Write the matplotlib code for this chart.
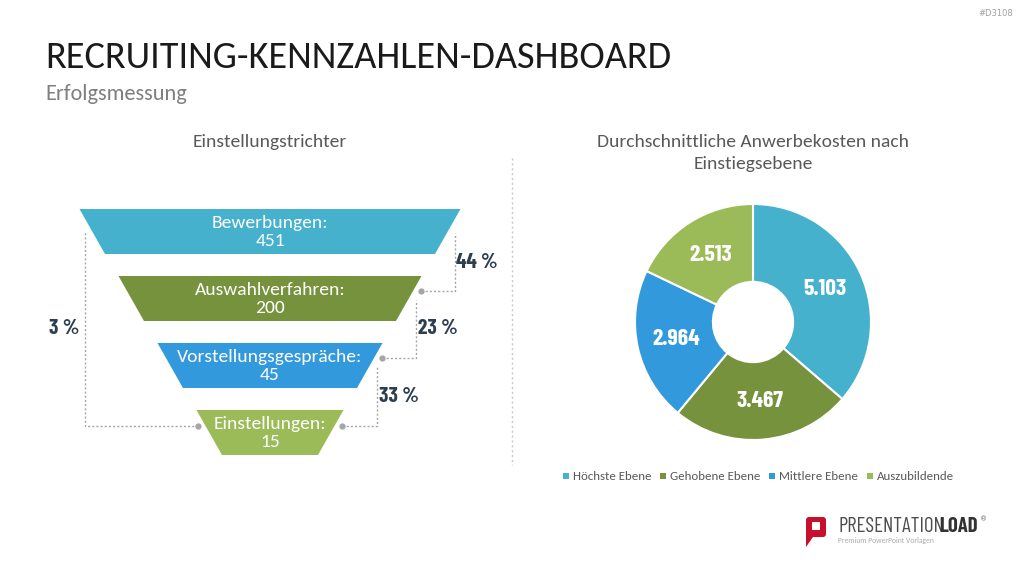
import numpy as np
import matplotlib.pyplot as plt
from matplotlib.patches import Polygon, FancyBboxPatch, Rectangle

# data
stages = ['Bewerbungen:', 'Auswahlverfahren:', 'Vorstellungsgespräche:', 'Einstellungen:']
stage_values = [451, 200, 45, 15]
levels = ['Höchste Ebene', 'Gehobene Ebene', 'Mittlere Ebene', 'Auszubildende']
costs = [5.103, 3.467, 2.964, 2.513]
colors = ['#46B1CC', '#76923C', '#3399DD', '#9BBB59']

grey = '#595959'
dark = '#2C3E50'
line_c = '#A6A6A6'
body = ['Carlito', 'Lato', 'DejaVu Sans']
cond = ['Barlow Condensed', 'Oswald', 'DejaVu Sans']

fig = plt.figure(figsize=(10.24, 5.76), dpi=100)
ax = fig.add_axes([0, 0, 1, 1])
ax.set_xlim(0, 1024)
ax.set_ylim(576, 0)
ax.axis('off')

# header
ax.text(45, 57, 'RECRUITING-KENNZAHLEN-DASHBOARD', fontsize=27.5, family=body,
        color='#1A1A1A', va='center', ha='left')
ax.text(45, 94, 'Erfolgsmessung', fontsize=16, family=body, color='#7F7F7F', va='center')
ax.text(1013, 13, '#D3108', fontsize=6, color='#A0A0A0', ha='right', va='center')

ax.text(270, 142, 'Einstellungstrichter', fontsize=14, family=body, color=grey,
        ha='center', va='center')
ax.text(753, 153, 'Durchschnittliche Anwerbekosten nach\nEinstiegsebene', fontsize=14,
        family=body, color=grey, ha='center', va='center', linespacing=1.4)

# divider
ax.plot([512, 512], [158, 465], color='#C8C8C8', lw=1, ls=(0, (1.5, 2)))

# funnel
cx, top0, step, h, hw0, shrink, slant = 270, 209, 67, 45, 190.5, 39, 25.5


def edge(i, dy):
    return hw0 - shrink * i - slant * dy / h


for i, (name, val) in enumerate(zip(stages, stage_values)):
    y = top0 + step * i
    hw_t = edge(i, 0)
    hw_b = edge(i, h)
    ax.add_patch(Polygon([(cx - hw_t, y), (cx + hw_t, y), (cx + hw_b, y + h), (cx - hw_b, y + h)],
                         closed=True, color=colors[i], lw=0))
    ax.text(cx, y + h / 2 + 0.5, f'{name}\n{val}', color='white', fontsize=14, family=body,
            ha='center', va='center', linespacing=1.2)


def pct(a, b):
    return f'{int(b / a * 100 + 0.5)} %'


gap = 8
for i in range(3):
    y_up = top0 + step * i + 24
    y_dn = top0 + step * (i + 1) + (15 if i < 2 else 16)
    x_v = cx + edge(i, 24) + gap
    x_d = cx + edge(i + 1, y_dn - top0 - step * (i + 1)) + gap
    ax.plot([x_d, x_v, x_v], [y_dn, y_dn, y_up], color=line_c, lw=1, ls=(0, (1.5, 1.5)))
    ax.plot(x_d, y_dn, 'o', color=line_c, ms=3.5)
    ax.text(x_v + 22, (y_up + y_dn) / 2, pct(stage_values[i], stage_values[i + 1]),
            fontsize=15.5, fontweight='bold', family=cond, color=dark, ha='center', va='center')

# overall
y_up = top0 + 23
y_dn = top0 + step * 3 + 16
x_v = cx - edge(0, 23) - gap
x_d = cx - edge(3, 16) - gap
ax.plot([x_d, x_v, x_v], [y_dn, y_dn, y_up], color=line_c, lw=1, ls=(0, (1.5, 1.5)))
ax.plot(x_d, y_dn, 'o', color=line_c, ms=3.5)
ax.text(x_v - 20, (y_up + y_dn) / 2, pct(stage_values[0], stage_values[-1]),
        fontsize=15.5, fontweight='bold', family=cond, color=dark, ha='center', va='center')

# donut
pax = fig.add_axes([635 / 1024, 136 / 576, 236 / 1024, 236 / 576])
wedges, _ = pax.pie(costs, colors=colors, startangle=90, counterclock=False, radius=1,
                    wedgeprops=dict(width=0.66, edgecolor='white', linewidth=1.5))
pax.set_xlim(-1, 1)
pax.set_ylim(-1, 1)
for w, v in zip(wedges, costs):
    ang = np.deg2rad((w.theta1 + w.theta2) / 2)
    r = 0.67
    pax.text(r * np.cos(ang), r * np.sin(ang), f'{v:.3f}', color='white',
             fontsize=17, fontweight='bold', family=cond, ha='center', va='center')

# legend
lx = [563, 660, 769, 867]
for x, lab, c in zip(lx, levels, colors):
    ax.add_patch(Rectangle((x, 473), 6, 6, color=c, lw=0))
    ax.text(x + 10, 476.5, lab, fontsize=9.3, family=body, color=grey, va='center')

# logo
ax.add_patch(FancyBboxPatch((806, 517), 20, 20, boxstyle='round,pad=0,rounding_size=3',
                            color='#C8102E', lw=0))
ax.add_patch(Polygon([(806, 530), (813, 537), (806, 547)], color='#C8102E', lw=0))
ax.add_patch(Rectangle((812, 522), 8, 8, color='white', lw=0))
ax.text(838, 526, 'PRESENTATION', fontsize=15, family=cond, color='#4D4D4D', va='center')
ax.text(939, 526, 'LOAD', fontsize=15, family=cond, fontweight='bold', color='#333333',
        va='center')
ax.text(980, 519, '®', fontsize=5, color='#666666', va='center')
ax.text(838, 541, 'Premium PowerPoint Vorlagen', fontsize=5.5, family=body, color='#AAAAAA',
        va='center')

fig.savefig('out.png', dpi=100, facecolor='white')
